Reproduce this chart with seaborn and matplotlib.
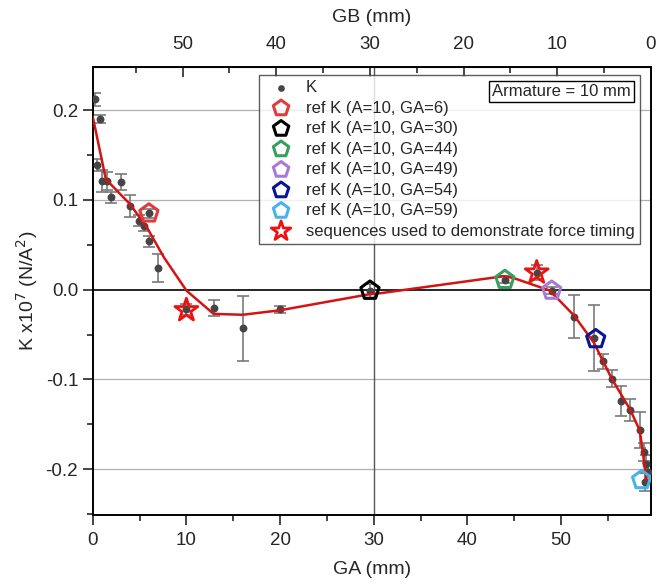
import matplotlib
matplotlib.use("Agg")
import matplotlib.pyplot as plt
import seaborn as sns
import pandas as pd
import numpy as np
from matplotlib.ticker import MultipleLocator, FormatStrFormatter, FixedLocator

sns.set_style("white")
plt.rcParams['font.family'] = ['Liberation Sans', 'DejaVu Sans']

# K measurements
ga_k = [0.2, 0.8, 0.5, 1.0, 1.5, 2.0, 3.0, 4.0, 4.9, 5.5, 6.0, 6.0, 7.0,
        10.0, 13.0, 16.0, 20.0, 29.6, 44.0, 47.4, 49.0, 51.4, 53.5, 54.5,
        55.4, 56.4, 57.4, 58.4, 58.9, 59.1, 59.25, 59.0]
k_val = [0.212, 0.190, 0.139, 0.121, 0.121, 0.103, 0.120, 0.093, 0.077, 0.071,
         0.085, 0.054, 0.024, -0.022, -0.020, -0.043, -0.022, -0.002, 0.011,
         0.019, -0.001, -0.030, -0.054, -0.080, -0.099, -0.124, -0.134, -0.156,
         -0.181, -0.194, -0.203, -0.214]
k_err = [0.007, 0.004, 0.007, 0.012, 0.010, 0.006, 0.009, 0.012, 0.006, 0.006,
         0.005, 0.006, 0.016, 0.006, 0.009, 0.036, 0.004, 0.008, 0.004, 0.008,
         0.004, 0.024, 0.037, 0.008, 0.010, 0.017, 0.012, 0.020, 0.010, 0.010,
         0.010, 0.010]

# red fit line
fit_ga = [0.0, 1.4, 4.0, 5.8, 7.6, 10.0, 12.9, 16.0, 20.0, 29.6, 30.7, 43.9,
          44.9, 48.8, 51.4, 53.5, 55.4, 57.4, 58.4, 58.7, 59.1]
fit_k = [0.193, 0.123, 0.095, 0.069, 0.036, -0.001, -0.027, -0.028, -0.023,
         -0.005, -0.004, 0.015, 0.013, -0.001, -0.029, -0.059, -0.099, -0.134,
         -0.157, -0.179, -0.212]

# reference points
ref_labels = ["ref K (A=10, GA=6)", "ref K (A=10, GA=30)", "ref K (A=10, GA=44)",
              "ref K (A=10, GA=49)", "ref K (A=10, GA=54)", "ref K (A=10, GA=59)"]
ref_ga = [6.0, 29.6, 44.0, 49.0, 53.7, 58.6]
ref_k = [0.085, -0.001, 0.011, -0.001, -0.055, -0.212]
ref_colors = ["#e23b3b", "#000000", "#36a060", "#a87ad8", "#0a1590", "#45b4ea"]

# force timing sequences
star_ga = [10.0, 47.4]
star_k = [-0.023, 0.019]

gb_ticks = [50, 40, 30, 20, 10, 0]

fig = plt.figure(figsize=(6.67, 5.85), dpi=100)
ax = fig.add_axes([0.139, 0.1197, 0.837, 0.7658])

ax.axhline(0.0, color="black", lw=1.2, zorder=1)
ax.axvline(30.0, color="#555555", lw=1.0, zorder=1)
for yv in [-0.2, -0.1, 0.1, 0.2]:
    ax.axhline(yv, color="#b0b0b0", lw=0.9, zorder=0)

ax.errorbar(ga_k, k_val, yerr=k_err, fmt="none", ecolor="#7a7a7a",
            elinewidth=1.2, capsize=4, capthick=1.2, zorder=2)
df = pd.DataFrame({"GA": ga_k, "K": k_val})
sns.scatterplot(data=df, x="GA", y="K", ax=ax, color="#454545", s=32,
                edgecolor="#454545", linewidth=0, label="K", zorder=3)

fit_df = pd.DataFrame({"GA": fit_ga, "K": fit_k})
sns.lineplot(data=fit_df, x="GA", y="K", ax=ax, sort=False, color="#d41414",
             lw=1.8, zorder=4, legend=False)

for lab, x, y, c in zip(ref_labels, ref_ga, ref_k, ref_colors):
    sns.scatterplot(x=[x], y=[y], ax=ax, marker="p", s=190, facecolor="none",
                    edgecolor=c, linewidth=2.2, label=lab, zorder=5)

sns.scatterplot(x=star_ga, y=star_k, ax=ax, marker="*", s=300, facecolor="none",
                edgecolor="#ee1111", linewidth=2.0,
                label="sequences used to demonstrate force timing", zorder=6)

ax.set_xlim(0, 59.6)
ax.set_ylim(-0.251, 0.248)
ax.xaxis.set_major_locator(MultipleLocator(10))
ax.xaxis.set_minor_locator(MultipleLocator(5))
ax.yaxis.set_major_locator(MultipleLocator(0.1))
ax.yaxis.set_minor_locator(MultipleLocator(0.05))
ax.yaxis.set_major_formatter(FormatStrFormatter("%.1f"))
ax.tick_params(axis="both", which="major", direction="out", length=7, width=1.2,
               labelsize=13.5, bottom=True, left=True, top=False, right=False)
ax.tick_params(axis="x", which="major", pad=5)
ax.tick_params(axis="both", which="minor", direction="out", length=4, width=1.2,
               bottom=True, left=True, top=False, right=False)
for s in ax.spines.values():
    s.set_linewidth(1.4)
    s.set_color("black")

ax.set_xlabel("GA (mm)", fontsize=14, labelpad=9)
ax.set_ylabel("K x10$^7$ (N/A$^2$)", fontsize=14, labelpad=4)

secx = ax.secondary_xaxis("top", functions=(lambda x: 59.6 - x, lambda x: 59.6 - x))
secx.xaxis.set_major_locator(FixedLocator(gb_ticks))
secx.xaxis.set_minor_locator(FixedLocator([55, 45, 35, 25, 15, 5]))
secx.tick_params(which="major", direction="in", length=7, width=1.2, labelsize=13.5, pad=10)
secx.tick_params(which="minor", direction="in", length=4, width=1.2)
secx.set_xlabel("GB (mm)", fontsize=14, labelpad=10)

leg = ax.legend(loc="upper right", bbox_to_anchor=(0.980, 0.982), fontsize=12,
                frameon=True, fancybox=False, edgecolor="#333333",
                handletextpad=0.5, labelspacing=0.33, borderpad=0.3,
                markerscale=0.85, borderaxespad=0)
leg.get_frame().set_linewidth(1.0)
leg.set_zorder(10)

ax.text(0.964, 0.962, "Armature = 10 mm", transform=ax.transAxes, ha="right",
        va="top", fontsize=12, zorder=11,
        bbox=dict(boxstyle="square,pad=0.2", facecolor="white", edgecolor="black", lw=1.0))

fig.savefig("out.png", dpi=100)
